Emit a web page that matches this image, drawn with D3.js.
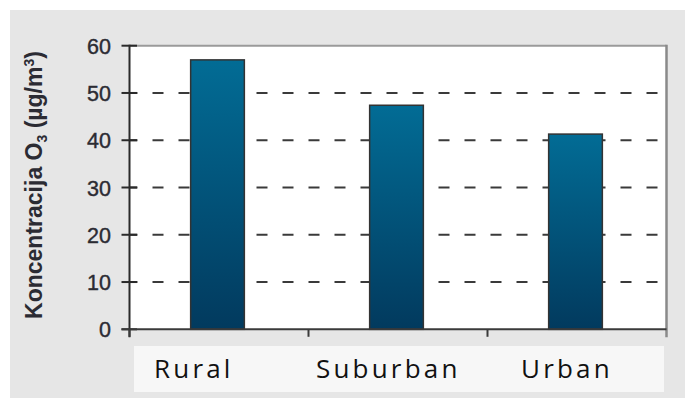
<!DOCTYPE html>
<html>
<head>
<meta charset="utf-8">
<script src="https://cdn.jsdelivr.net/npm/d3@7/dist/d3.min.js"></script>
<style>
  html, body { margin: 0; padding: 0; background: #ffffff; }
  svg { display: block; }
</style>
</head>
<body>
<script>
// ---- data ----
const categories = ["Rural", "Suburban", "Urban"];
const values = [57.0, 47.4, 41.3];
const yTicks = [0, 10, 20, 30, 40, 50, 60];
const yTitle = "Koncentracija O";
const yTitleSub = "3";
const yTitleUnit = " (µg/m";
const yTitleSup = "3";

// ---- layout ----
const W = 685, H = 398;
const plot = { left: 129.5, right: 666.5, top: 45.7, bottom: 329.3 };
const labelOffsets = [24.5, 7.5, 33.5]; // left edge of labels relative to band start

const svg = d3.select("body").append("svg")
  .attr("width", W).attr("height", H);

const defs = svg.append("defs");
const grad = defs.append("linearGradient")
  .attr("id", "barGrad").attr("x1", 0).attr("y1", 0).attr("x2", 0).attr("y2", 1);
grad.append("stop").attr("offset", "0%").attr("stop-color", "#026c95");
grad.append("stop").attr("offset", "100%").attr("stop-color", "#023a5e");

// background
svg.append("rect").attr("x", 10).attr("y", 10).attr("width", W - 10).attr("height", H - 10)
  .attr("fill", "#e6e6e6");

const x = d3.scaleBand().domain(categories).range([plot.left, plot.right]).padding(0);
const y = d3.scaleLinear().domain([0, 60]).range([plot.bottom, plot.top]);

// plot area
svg.append("rect")
  .attr("x", plot.left).attr("y", plot.top)
  .attr("width", plot.right - plot.left).attr("height", plot.bottom - plot.top)
  .attr("fill", "#ffffff");

// gridlines
svg.append("g").selectAll("line")
  .data(yTicks.filter(t => t > 0 && t < 60))
  .join("line")
  .attr("x1", plot.left).attr("x2", plot.right - 2)
  .attr("y1", d => y(d)).attr("y2", d => y(d))
  .attr("stroke", "#3a3a3a").attr("stroke-width", 2)
  .attr("stroke-dasharray", "11,15").attr("stroke-dashoffset", 3);

// top and right border
svg.append("line").attr("x1", plot.left).attr("x2", plot.right)
  .attr("y1", plot.top).attr("y2", plot.top)
  .attr("stroke", "#9a9a9a").attr("stroke-width", 2);
svg.append("line").attr("x1", plot.right).attr("x2", plot.right)
  .attr("y1", plot.top - 1).attr("y2", plot.bottom + 8)
  .attr("stroke", "#8a8a8a").attr("stroke-width", 2.5);

// bars
const bw = x.bandwidth() * 0.3;
svg.append("g").selectAll("rect")
  .data(categories)
  .join("rect")
  .attr("x", d => x(d) + x.bandwidth() / 2 - bw / 2 - 1.5)
  .attr("width", bw)
  .attr("y", (d, i) => y(values[i]))
  .attr("height", (d, i) => y(0) - y(values[i]))
  .attr("fill", "url(#barGrad)")
  .attr("stroke", "#333333").attr("stroke-width", 1.5);

// y axis
const yAxis = svg.append("g");
yAxis.append("line").attr("x1", plot.left).attr("x2", plot.left)
  .attr("y1", plot.top - 1).attr("y2", plot.bottom + 8)
  .attr("stroke", "#2a2a2a").attr("stroke-width", 2);
yAxis.selectAll("line.tick").data(yTicks).join("line").attr("class", "tick")
  .attr("x1", plot.left - 8).attr("x2", plot.left + 7.5)
  .attr("y1", d => y(d)).attr("y2", d => y(d))
  .attr("stroke", "#2a2a2a").attr("stroke-width", 2);
yAxis.selectAll("text").data(yTicks).join("text")
  .attr("x", 111).attr("y", d => y(d) + 1)
  .attr("text-anchor", "end").attr("dominant-baseline", "central")
  .attr("font-family", "Liberation Sans, Arial, sans-serif")
  .attr("font-size", 21.5).attr("fill", "#2b2b33")
  .attr("stroke", "#2b2b33").attr("stroke-width", 0.4)
  .text(d => d);

// x axis
const xAxis = svg.append("g");
xAxis.append("line").attr("x1", plot.left - 8).attr("x2", plot.right)
  .attr("y1", plot.bottom).attr("y2", plot.bottom)
  .attr("stroke", "#3a3a3a").attr("stroke-width", 2);
const bounds = categories.map(c => x(c)).concat([plot.right]);
xAxis.selectAll("line.tick").data(bounds.slice(0, 3)).join("line").attr("class", "tick")
  .attr("x1", d => d).attr("x2", d => d)
  .attr("y1", plot.bottom).attr("y2", plot.bottom + 7.5)
  .attr("stroke", "#3a3a3a").attr("stroke-width", 2);

// label box
svg.append("rect").attr("x", 134).attr("y", 346).attr("width", 530).attr("height", 46)
  .attr("fill", "#f7f7f7");
svg.append("g").selectAll("text").data(categories).join("text")
  .attr("x", (d, i) => x(d) + labelOffsets[i])
  .attr("y", 377.5)
  .attr("font-family", "Open Sans, sans-serif")
  .attr("font-size", 26).attr("letter-spacing", 3.2)
  .attr("fill", "#111111")
  .text(d => d);

// y title
const t = svg.append("text")
  .attr("transform", "translate(41.5,185) rotate(-90)")
  .attr("text-anchor", "middle")
  .attr("font-family", "Liberation Sans, Arial, sans-serif")
  .attr("font-weight", "bold").attr("font-size", 23)
  .attr("fill", "#2b2b33");
t.append("tspan").text(yTitle);
t.append("tspan").attr("font-size", 14).attr("dy", 5).text(yTitleSub);
t.append("tspan").attr("dy", -5).text(yTitleUnit);
t.append("tspan").attr("font-size", 14).attr("dy", -8).text(yTitleSup);
t.append("tspan").attr("dy", 8).text(")");
</script>
</body>
</html>
